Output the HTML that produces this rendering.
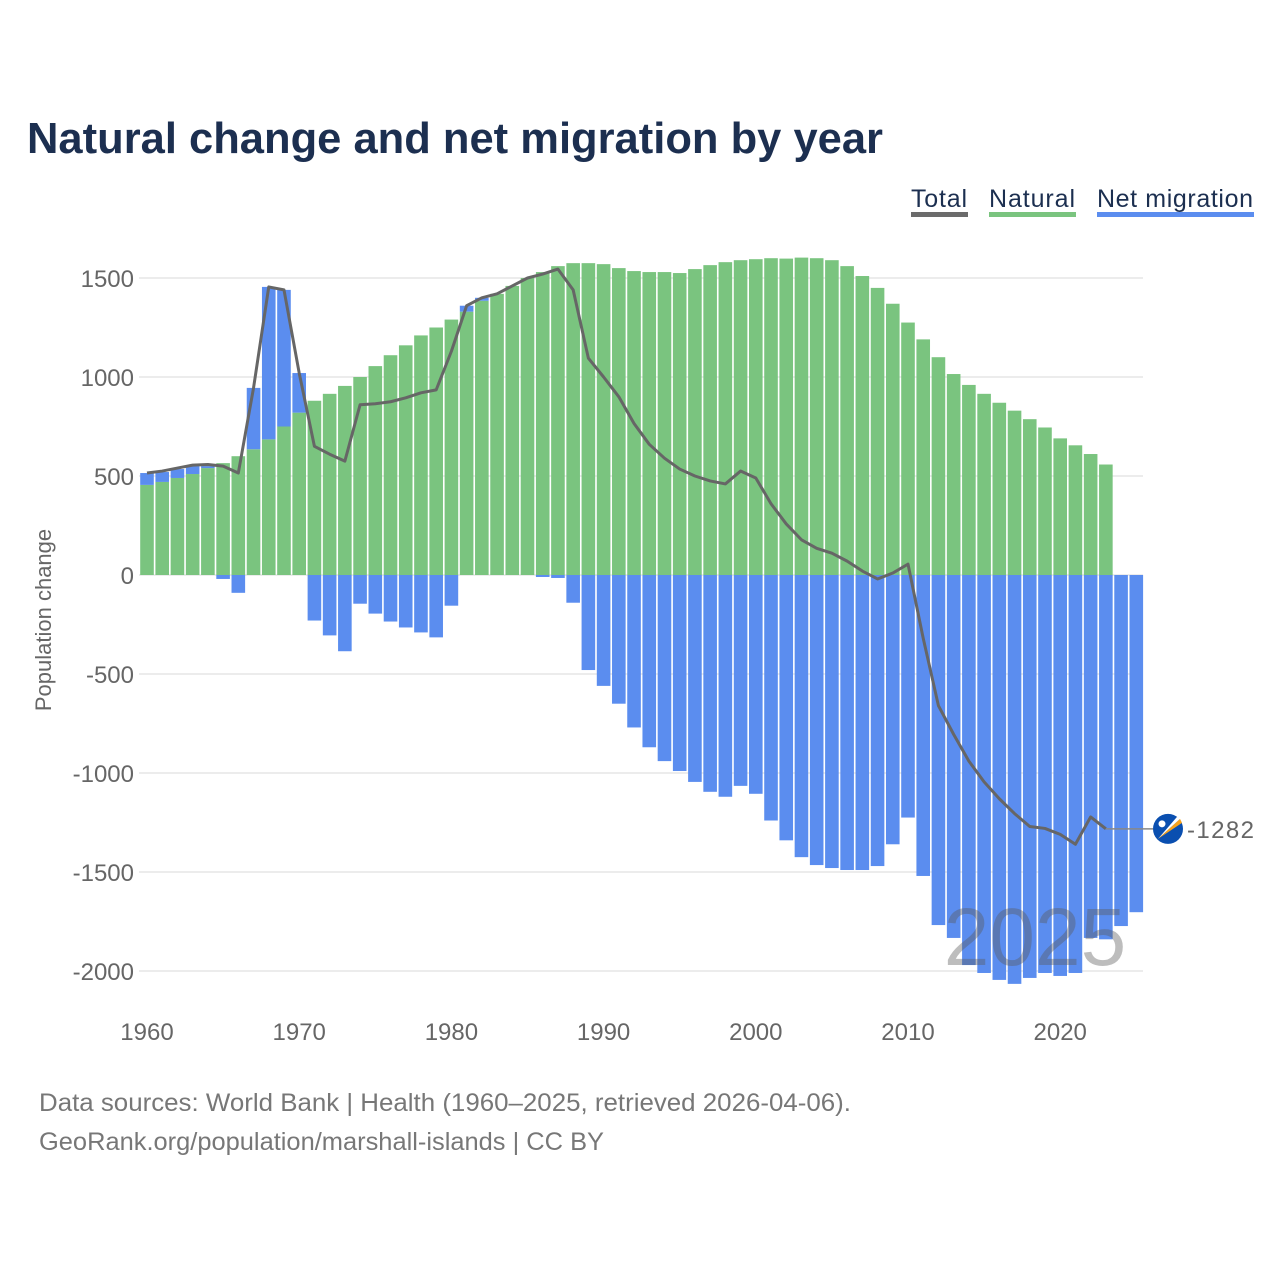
<!DOCTYPE html>
<html><head><meta charset="utf-8"><style>
body{margin:0;background:#fff;width:1280px;height:1280px;overflow:hidden;font-family:"Liberation Sans",sans-serif;}
svg text{font-family:"Liberation Sans",sans-serif;}
</style></head><body>
<svg id="chart" width="1280" height="1280" xmlns="http://www.w3.org/2000/svg">
<text x="27" y="153" font-size="44" font-weight="bold" fill="#1c2f50" textLength="856" lengthAdjust="spacingAndGlyphs">Natural change and net migration by year</text>
<g>
<g><text x="911" y="207" font-size="25" fill="#1c2f50" textLength="56">Total</text><rect x="911" y="212" width="57" height="5" fill="#6b6b6b"/></g>
<g><text x="989" y="207" font-size="25" fill="#1c2f50" textLength="86">Natural</text><rect x="989" y="212" width="87" height="5" fill="#7ac47f"/></g>
<g><text x="1097" y="207" font-size="25" fill="#1c2f50" textLength="156">Net migration</text><rect x="1097" y="212" width="157" height="5" fill="#5b8def"/></g>
</g>
<text transform="translate(51,620) rotate(-90)" text-anchor="middle" font-size="22" fill="#666">Population change</text>
<g id="grid"></g><g id="bars"></g><g id="wm"></g><g id="line"></g><g id="xt"></g>
<text x="39" y="1111" font-size="25" fill="#777" textLength="812" lengthAdjust="spacingAndGlyphs">Data sources: World Bank | Health (1960–2025, retrieved 2026-04-06).</text>
<text x="39" y="1150" font-size="25" fill="#777" textLength="565" lengthAdjust="spacingAndGlyphs">GeoRank.org/population/marshall-islands | CC BY</text>
</svg>
<script>
const years=[];for(let y=1960;y<=2025;y++)years.push(y);
const natural=[455,470,490,510,540,565,600,635,685,750,820,880,915,955,1000,1055,1110,1160,1210,1250,1290,1330,1385,1420,1460,1500,1530,1560,1575,1575,1570,1550,1535,1530,1530,1525,1545,1565,1580,1590,1595,1600,1598,1603,1600,1590,1560,1510,1450,1370,1275,1190,1100,1015,960,915,870,830,787,745,690,655,611,558,0,0];
const migration=[60,50,45,40,10,-20,-90,310,770,690,200,-230,-305,-385,-145,-195,-235,-265,-290,-315,-155,30,15,0,0,0,-10,-15,-140,-480,-560,-650,-770,-870,-940,-990,-1045,-1095,-1120,-1065,-1105,-1240,-1340,-1425,-1465,-1480,-1490,-1490,-1470,-1360,-1225,-1520,-1768,-1833,-1970,-2010,-2045,-2065,-2035,-2010,-2025,-2010,-1833,-1840,-1773,-1703];
const total=[515,525,540,555,558,550,515,945,1455,1440,1020,650,610,575,860,865,875,895,920,935,1130,1360,1400,1420,1460,1500,1520,1545,1440,1095,1000,900,765,660,590,535,500,475,460,525,490,360,258,178,135,110,70,20,-20,10,55,-320,-660,-805,-940,-1045,-1130,-1205,-1270,-1280,-1310,-1360,-1222,-1282,null,null];
const yTicks=[1500,1000,500,0,-500,-1000,-1500,-2000];
const xTicks=[1960,1970,1980,1990,2000,2010,2020];
const NS="http://www.w3.org/2000/svg";
const X=y=>147+(y-1960)*15.22;
const Y=v=>575-v*0.198;
function mk(t,a,p){const e=document.createElementNS(NS,t);for(const k in a)e.setAttribute(k,a[k]);p.appendChild(e);return e;}
const grid=document.getElementById('grid');
yTicks.forEach(v=>{
 const l=mk('line',{x1:139,x2:1143,y1:Y(v),y2:Y(v),stroke:'#e6e6e6','stroke-width':1.5},grid);
 
 
 const t=mk('text',{x:134,y:Y(v)+9,'text-anchor':'end','font-size':24,fill:'#666'},grid);
 t.textContent=v;
 
 
});
const xt=document.getElementById('xt');
xTicks.forEach(v=>{
 const t=mk('text',{x:X(v),y:1040,'text-anchor':'middle','font-size':24,fill:'#666'},xt);
 t.textContent=v;
 
 
});
const bars=document.getElementById('bars');const bw=13.6;
years.forEach((yr,i)=>{
 const n=natural[i],m=migration[i];
 if(n>0){const r=mk('rect',{x:X(yr)-bw/2,y:Y(n),width:bw,height:Y(0)-Y(n),fill:'#7ac47f'},bars);
  
  }
 if(m!==0){let y0,y1;if(m>0){y0=Y(n+m);y1=Y(n);}else{y0=Y(0);y1=Y(m);}
  const r=mk('rect',{x:X(yr)-bw/2,y:y0,width:bw,height:y1-y0,fill:'#5b8def'},bars);
  
  }
});
const wm=mk('text',{x:1035,y:965,'text-anchor':'middle','font-size':82,fill:'rgba(90,90,90,0.4)'},document.getElementById('wm'));
wm.textContent='2025';


const lg=document.getElementById('line');let pts=[],last=null;
years.forEach((yr,i)=>{if(total[i]!==null){pts.push(X(yr)+','+Y(total[i]));last=total[i];}});
const pl=mk('polyline',{points:pts.join(' '),fill:'none',stroke:'#666','stroke-width':3,'stroke-linejoin':'round'},lg);


const lastIdx=total.map(v=>v!==null).lastIndexOf(true);
const conn=mk('line',{x1:X(years[lastIdx]),x2:1153,y1:Y(last),y2:Y(last),stroke:'#888','stroke-width':1.5},lg);


const fl=mk('g',{},lg);


mk('circle',{cx:1168,cy:Y(last),r:15,fill:'#0a4fb0'},fl);
mk('polygon',{points:`1158,${Y(last)+10} 1180,${Y(last)-10} 1182,${Y(last)-6}`,fill:'#f7a21b'},fl);
mk('polygon',{points:`1158,${Y(last)+10} 1180,${Y(last)-10} 1177,${Y(last)-12}`,fill:'#fff'},fl);
mk('circle',{cx:1162,cy:Y(last)-5,r:3.5,fill:'#fff'},fl);
const el=mk('text',{x:1187,y:Y(last)+9,'font-size':24,fill:'#666',textLength:67},lg);
el.textContent=last;


</script>
</body></html>
